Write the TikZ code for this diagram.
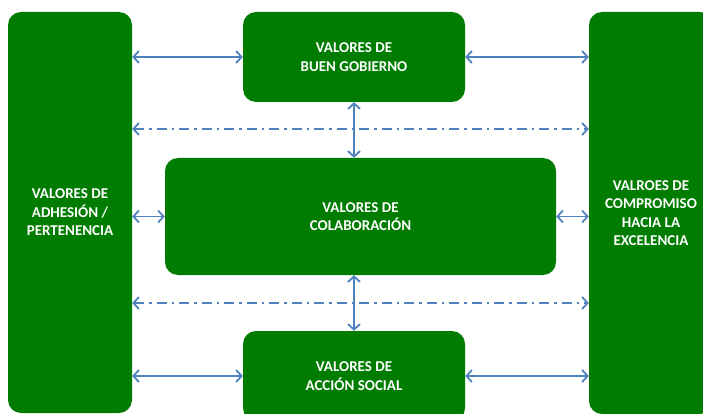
\documentclass[tikz,border=0pt]{standalone}
\usepackage{fontspec}
\setmainfont{Carlito}
\usetikzlibrary{arrows.meta}
\definecolor{verde}{RGB}{0,125,0}
\definecolor{azul}{RGB}{79,129,189}

\begin{document}
\begin{tikzpicture}[x=1pt, y=-1pt]
	\tikzstyle{caja}   = [rectangle, rounded corners=13pt, fill=verde, text=white, inner sep=0pt, align=center, font=\bfseries\fontsize{15}{18.5}\selectfont]
	\tikzstyle{flecha} = [draw=azul, line width=1.8pt, {Straight Barb[length=5.5pt, width=12pt]}-{Straight Barb[length=5.5pt, width=12pt]}]
	\tikzstyle{puntos} = [flecha, dash pattern=on 10pt off 5pt on 2.5pt off 5pt]

	\clip (0,0) rectangle (703,414);

	\node[caja, minimum width=124pt, minimum height=401pt] (adh) at (70, 212.5) {VALORES DE\\ADHESIÓN /\\PERTENENCIA};
	\node[caja, minimum width=124pt, minimum height=402pt] (comp) at (651, 213) {VALROES DE\\COMPROMISO\\HACIA LA\\EXCELENCIA};

	\foreach \name/\y/\text in {gob/57/BUEN GOBIERNO, soc/376/ACCIÓN SOCIAL}
		\node[caja, minimum width=222pt, minimum height=90pt] (\name) at (354, \y) {VALORES DE\\\text};
	\node[caja, minimum width=391pt, minimum height=117pt] (col) at (360.5, 216.5) {VALORES DE\\COLABORACIÓN};

	\foreach \to in {gob, col, soc}
	{
		\draw[flecha] (adh.east |- \to.west) -- (\to.west);
		\draw[flecha] (\to.east) -- (comp.west |- \to.east);
	}

	\foreach \y in {129, 303}
		\draw[puntos] (adh.east |- 0,\y) -- (comp.west |- 0,\y);

	\draw[flecha] (gob.south) -- (gob.south |- col.north);
	\draw[flecha] (soc.north |- col.south) -- (soc.north);
\end{tikzpicture}
\end{document}
